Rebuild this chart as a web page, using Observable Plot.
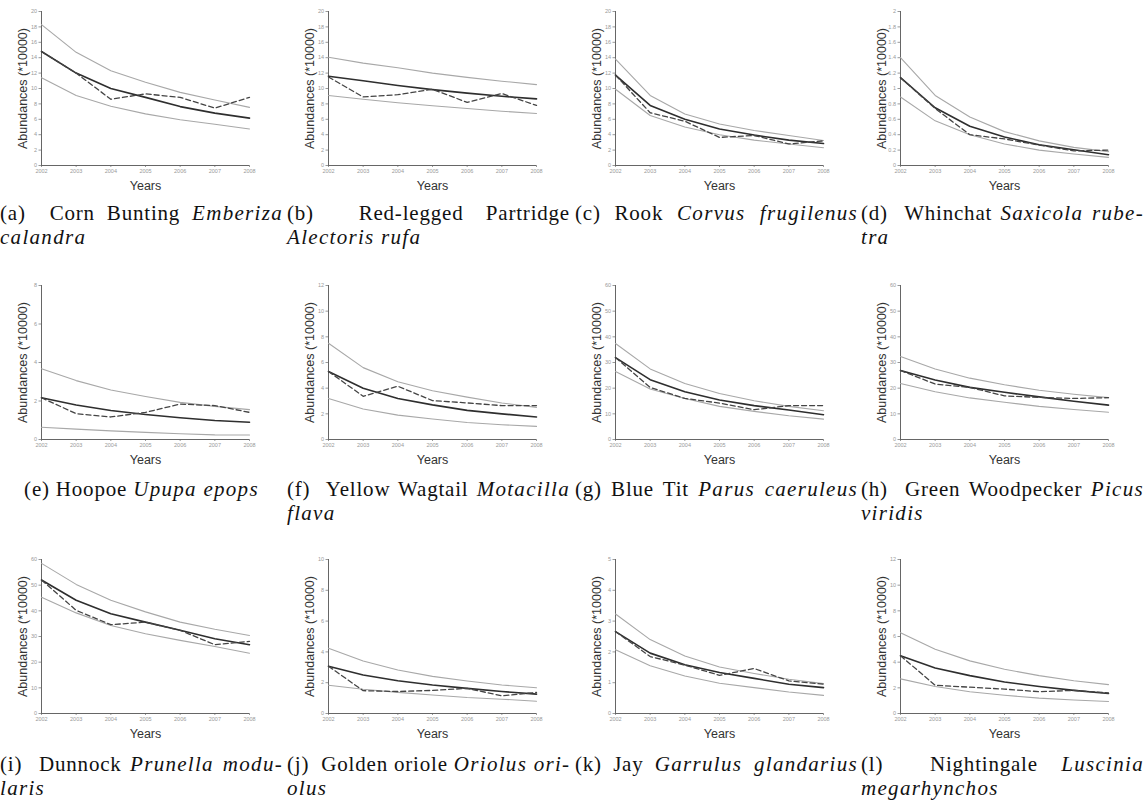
<!DOCTYPE html>
<html>
<head>
<meta charset="utf-8">
<script src="https://cdn.jsdelivr.net/npm/d3@7"></script>
<script src="https://cdn.jsdelivr.net/npm/@observablehq/plot@0.6"></script>
<style>
  body { margin: 0; background: #fff; }
  #root { position: relative; width: 1146px; height: 801px; overflow: hidden; background: #fff; }
  .panel { position: absolute; }
  .cap { position: absolute; font-family: "Liberation Serif", "Times New Roman", serif; font-size: 21px; line-height: 24px; color: #111; letter-spacing: 0.8px; }
  .cap .l1 { text-align: justify; text-align-last: justify; white-space: nowrap; }
  .cap .single { text-align: center; white-space: nowrap; }
  .cap i { font-style: italic; letter-spacing: 1.3px; }
</style>
</head>
<body>
<div id="root"></div>
<script>
const years = [2002, 2003, 2004, 2005, 2006, 2007, 2008];
const panelLetters = ["a","b","c","d","e","f","g","h","i","j","k","l"];
const commonNames = ["Corn Bunting","Red-legged Partridge","Rook","Whinchat","Hoopoe","Yellow Wagtail","Blue Tit","Green Woodpecker","Dunnock","Golden oriole","Jay","Nightingale"];
// "|" marks where the caption wraps to the second line
const latinNames = ["Emberiza|calandra","|Alectoris rufa","Corvus frugilenus","Saxicola rube-|tra","Upupa epops","Motacilla|flava","Parus caeruleus","Picus|viridis","Prunella modu-|laris","Oriolus ori-|olus","Garrulus glandarius","Luscinia|megarhynchos"];
const yMax = [20, 20, 20, 2, 8, 12, 60, 60, 60, 10, 5, 12];
const yStep = [2, 2, 2, 0.2, 2, 2, 10, 10, 10, 2, 1, 2];
const yLabel = "Abundances (*10000)";
const xLabel = "Years";

const upper = [
  [18.3, 14.7, 12.3, 10.8, 9.5, 8.5, 7.55],
  [14.06, 13.3, 12.7, 12.0, 11.45, 10.95, 10.5],
  [13.8, 9.1, 6.7, 5.4, 4.55, 3.9, 3.25],
  [1.40, 0.91, 0.63, 0.44, 0.32, 0.235, 0.18],
  [3.67, 3.06, 2.57, 2.23, 1.93, 1.72, 1.55],
  [7.5, 5.6, 4.5, 3.8, 3.3, 2.85, 2.5],
  [37.4, 27.5, 21.8, 17.9, 15.1, 12.9, 11.2],
  [32.3, 27.5, 23.9, 21.3, 19.2, 17.6, 16.3],
  [58.5, 50.3, 44.1, 39.6, 35.6, 32.8, 30.4],
  [4.24, 3.41, 2.83, 2.41, 2.11, 1.85, 1.67],
  [3.23, 2.4, 1.87, 1.51, 1.3, 1.11, 0.97],
  [6.3, 5.0, 4.1, 3.45, 2.95, 2.55, 2.25]
];
const model = [
  [14.8, 12.0, 10.0, 8.85, 7.65, 6.8, 6.15],
  [11.6, 11.0, 10.4, 9.85, 9.4, 9.0, 8.65],
  [11.75, 7.8, 6.0, 4.75, 3.95, 3.3, 2.85],
  [1.14, 0.75, 0.51, 0.37, 0.27, 0.205, 0.14],
  [2.17, 1.79, 1.51, 1.30, 1.13, 0.99, 0.90],
  [5.3, 4.0, 3.2, 2.7, 2.27, 2.0, 1.75],
  [31.9, 23.3, 18.6, 15.4, 13.2, 11.5, 9.65],
  [26.9, 23.2, 20.3, 18.4, 16.6, 14.9, 13.4],
  [52.0, 44.1, 38.9, 35.6, 32.4, 29.1, 26.8],
  [3.07, 2.5, 2.13, 1.85, 1.63, 1.43, 1.26],
  [2.66, 1.96, 1.58, 1.33, 1.14, 0.95, 0.84],
  [4.5, 3.55, 2.95, 2.45, 2.1, 1.8, 1.56]
];
const lower = [
  [11.4, 9.1, 7.7, 6.7, 5.95, 5.35, 4.75],
  [9.1, 8.6, 8.15, 7.75, 7.4, 7.05, 6.75],
  [9.9, 6.5, 5.0, 4.0, 3.3, 2.8, 2.3],
  [0.89, 0.58, 0.40, 0.28, 0.20, 0.15, 0.105],
  [0.64, 0.54, 0.45, 0.37, 0.30, 0.24, 0.23],
  [3.2, 2.38, 1.9, 1.6, 1.33, 1.15, 1.02],
  [26.5, 19.7, 16.0, 12.9, 10.95, 9.25, 7.95],
  [21.8, 18.6, 16.2, 14.5, 12.9, 11.7, 10.6],
  [45.3, 39.2, 34.3, 31.1, 28.5, 26.1, 23.5],
  [1.83, 1.57, 1.37, 1.2, 1.04, 0.93, 0.8],
  [2.07, 1.55, 1.22, 0.98, 0.84, 0.7, 0.59],
  [2.7, 2.1, 1.7, 1.42, 1.2, 1.05, 0.93]
];
const observed = [
  [14.8, 12.0, 8.6, 9.3, 8.85, 7.45, 8.85],
  [11.5, 8.9, 9.2, 9.9, 8.2, 9.35, 7.8],
  [11.75, 6.85, 5.75, 3.65, 3.9, 2.8, 3.2],
  [1.14, 0.74, 0.40, 0.345, 0.265, 0.19, 0.20],
  [2.17, 1.34, 1.17, 1.41, 1.84, 1.76, 1.41],
  [5.3, 3.37, 4.15, 3.03, 2.85, 2.64, 2.64],
  [31.9, 20.3, 16.0, 14.2, 11.6, 13.2, 13.2],
  [26.9, 21.6, 20.3, 17.0, 16.4, 16.0, 16.3],
  [52.0, 40.2, 34.6, 35.6, 32.4, 26.8, 28.1],
  [3.07, 1.48, 1.43, 1.5, 1.63, 1.15, 1.37],
  [2.66, 1.85, 1.57, 1.24, 1.46, 1.06, 0.95],
  [4.5, 2.2, 2.05, 1.9, 1.7, 1.8, 1.6]
];

// layout
const colLeft = [1, 288, 575, 860];
const capLeft = [0, 287, 575, 861];
const rowTop = [0, 274, 548];
const capTop = [201, 477, 752];
const centeredCaption = ["e"];

const root = document.getElementById("root");

function series(arr) {
  return years.map((yr, i) => ({year: yr, value: arr[i]}));
}

panelLetters.forEach((letter, p) => {
  const r = Math.floor(p / 4), c = p % 4;
  const ticks = d3.range(0, yMax[p] + yStep[p] / 2, yStep[p]).map(v => +v.toFixed(2));
  const chart = Plot.plot({
    width: 286,
    height: 195,
    marginLeft: 40,
    marginRight: 38,
    marginTop: 11,
    marginBottom: 30,
    style: {background: "transparent", fontFamily: "'Liberation Sans', Arial, sans-serif", overflow: "visible"},
    x: {domain: [2002, 2008]},
    y: {domain: [0, yMax[p]]},
    marks: [
      Plot.axisX({ticks: years, tickFormat: d => String(d), tickSize: 2, tickPadding: 2, fontSize: 5.5, color: "#999", label: null}),
      Plot.axisY({ticks, tickFormat: d => String(d), tickSize: 2.5, tickPadding: 2, fontSize: 5.5, color: "#999", label: null}),
      Plot.ruleY([0], {stroke: "#666", strokeWidth: 1}),
      Plot.ruleX([2002], {stroke: "#666", strokeWidth: 1}),
      Plot.line(series(upper[p]), {x: "year", y: "value", stroke: "#a8a8a8", strokeWidth: 1.1}),
      Plot.line(series(lower[p]), {x: "year", y: "value", stroke: "#a8a8a8", strokeWidth: 1.1}),
      Plot.line(series(model[p]), {x: "year", y: "value", stroke: "#2e2e2e", strokeWidth: 1.6}),
      Plot.line(series(observed[p]), {x: "year", y: "value", stroke: "#444", strokeWidth: 1.3, strokeDasharray: "5,3"}),
      Plot.text([yLabel], {frameAnchor: "left", dx: -19, rotate: -90, textAnchor: "middle", lineAnchor: "middle", fontSize: 12.5, fill: "#333"}),
      Plot.text([xLabel], {frameAnchor: "bottom", dy: 20, textAnchor: "middle", lineAnchor: "middle", fontSize: 12.5, fill: "#333"})
    ]
  });
  const wrap = document.createElement("div");
  wrap.className = "panel";
  wrap.style.left = colLeft[c] + "px";
  wrap.style.top = rowTop[r] + "px";
  wrap.appendChild(chart);
  root.appendChild(wrap);

  const cap = document.createElement("div");
  cap.className = "cap";
  cap.style.left = capLeft[c] + "px";
  cap.style.top = capTop[r] + "px";
  cap.style.width = "283px";
  const parts = latinNames[p].split("|");
  if (parts.length === 1) {
    const cls = centeredCaption.includes(letter) ? "single" : "l1";
    cap.innerHTML = `<div class="${cls}">(${letter}) ${commonNames[p]} <i>${parts[0]}</i></div>`;
  } else {
    const first = parts[0] ? ` <i>${parts[0]}</i>` : "";
    cap.innerHTML = `<div class="l1">(${letter})&nbsp; ${commonNames[p]}${first}</div><div><i>${parts[1]}</i></div>`;
  }
  root.appendChild(cap);
});
</script>
</body>
</html>
